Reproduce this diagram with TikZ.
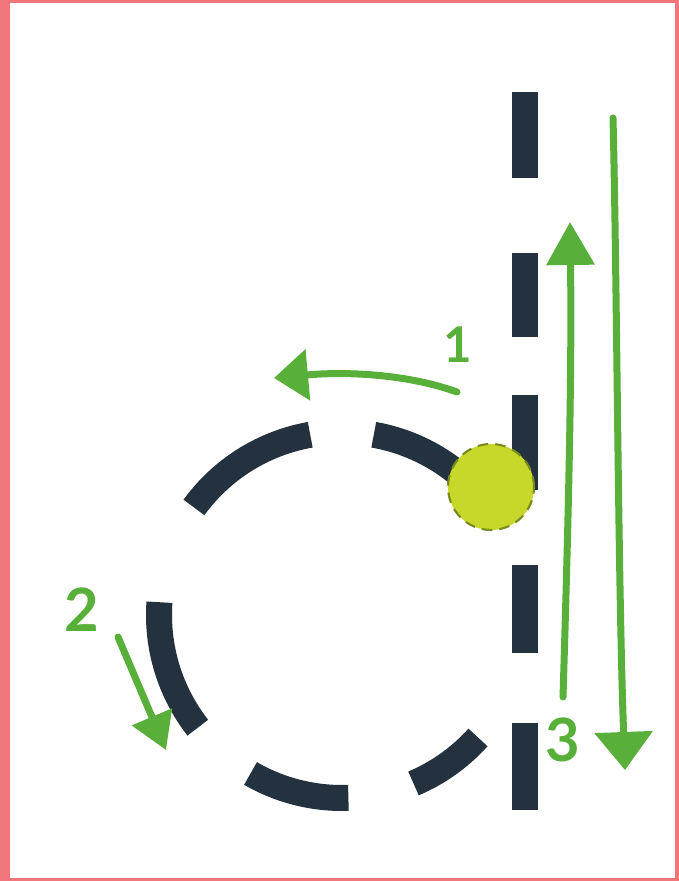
\documentclass[tikz,border=0pt]{standalone}
\usepackage{fontspec}
\setmainfont{Lato}
\usetikzlibrary{arrows.meta}
\definecolor{framepink}{RGB}{240,118,124}
\definecolor{navy}{RGB}{35,50,62}
\definecolor{dotyellow}{RGB}{200,216,42}
\definecolor{dotedge}{RGB}{120,140,30}
\definecolor{pengreen}{RGB}{88,176,58}
\tikzset{
  dashseg/.style={draw=navy, line width=0.26cm, line cap=butt},
  greenarrow/.style={draw=pengreen, line width=0.07cm, line cap=round},
  numlabel/.style={text=pengreen, font=\bfseries\fontsize{17}{17}\selectfont, inner sep=0pt}
}
\begin{document}
\begin{tikzpicture}
\useasboundingbox (0,0) rectangle (6.79,8.81);
% frame
\fill[framepink] (0,0) rectangle (6.79,8.81);
\fill[white] (0.10,0.03) rectangle (6.75,8.78);
% vertical dashed line
\draw[dashseg] (5.25,7.89) -- (5.25,7.03);
\draw[dashseg] (5.25,6.28) -- (5.25,5.44);
\draw[dashseg] (5.25,4.86) -- (5.25,3.91);
\draw[dashseg] (5.25,3.16) -- (5.25,2.28);
\draw[dashseg] (5.25,1.58) -- (5.25,0.71);
% dashed circle
\coordinate (c) at (3.42,2.66);
\draw[dashseg] (c) ++(100:1.83) arc[start angle=100, end angle=144, radius=1.83cm];
\draw[dashseg] (c) ++(35:1.83) arc[start angle=35, end angle=80, radius=1.83cm];
\draw[dashseg] (c) ++(176:1.83) arc[start angle=176, end angle=218, radius=1.83cm];
\draw[dashseg] (c) ++(240:1.83) arc[start angle=240, end angle=272, radius=1.83cm];
\draw[dashseg] (c) ++(293:1.83) arc[start angle=293, end angle=318, radius=1.83cm];
% dot
\node[circle, fill=dotyellow, draw=dotedge, densely dashed, line width=0.6pt, minimum size=0.86cm, inner sep=0pt] (dot) at (4.91,3.94) {};
% arrow 1
\coordinate (a1s) at (4.57,4.89);
\coordinate (a1e) at (2.74,5.03);
\draw[greenarrow, -{Triangle[length=0.34cm, width=0.5cm]}] (a1s) .. controls (4.1,5.06) and (3.5,5.1) .. (a1e);
\node[numlabel, font=\bfseries\fontsize{14}{14}\selectfont] (l1) at (4.58,5.36) {1};
% arrow 2
\coordinate (a2s) at (1.18,2.44);
\coordinate (a2e) at (1.66,1.31);
\draw[greenarrow, -{Triangle[length=0.36cm, width=0.42cm]}] (a2s) -- (a2e);
\node[numlabel] (l2) at (0.82,2.71) {2};
% arrow up
\coordinate (a3s) at (5.63,1.84);
\coordinate (a3e) at (5.70,6.59);
\draw[greenarrow, -{Triangle[length=0.43cm, width=0.47cm]}] (a3s) .. controls (5.68,3.5) and (5.72,5.0) .. (a3e);
% arrow down
\coordinate (a4s) at (6.13,7.63);
\coordinate (a4e) at (6.25,1.11);
\draw[greenarrow, -{Triangle[length=0.38cm, width=0.57cm]}] (a4s) .. controls (6.17,6.0) and (6.18,3.0) .. (a4e);
\node[numlabel] (l3) at (5.63,1.41) {3};
\end{tikzpicture}
\end{document}
